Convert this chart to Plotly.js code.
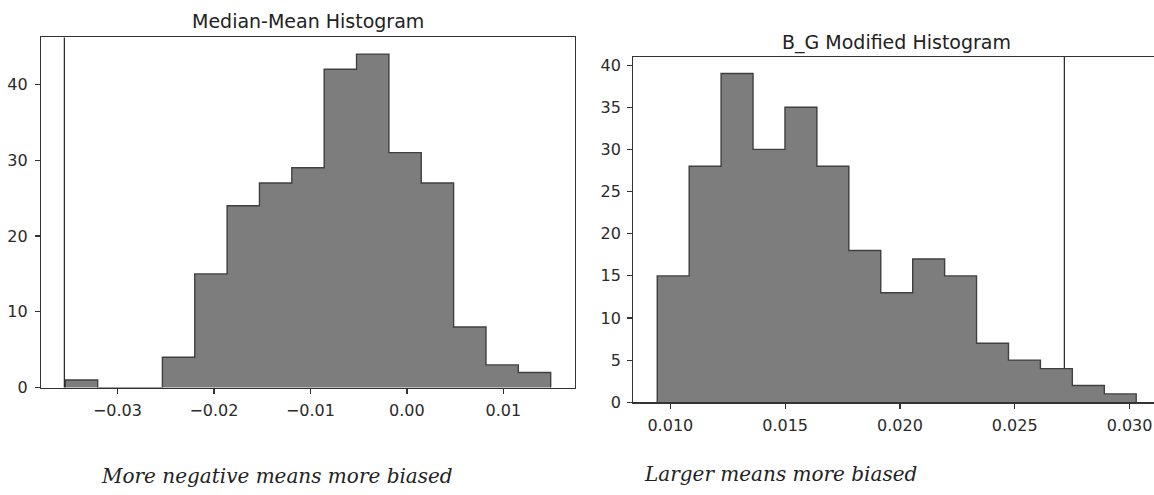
<!DOCTYPE html>
<html>
<head>
<meta charset="utf-8">
<script src="https://cdn.plot.ly/plotly-3.0.1.min.js"></script>
<style>html,body{margin:0;padding:0;background:#fff;overflow:hidden}</style>
</head>
<body>
<div id="chart" style="width:1154px;height:495px"></div>
<script>
// ---- data ----
const leftTitle = 'Median-Mean Histogram';
const leftBinStart = -0.03540;
const leftBinEnd = 0.01490;
const leftCounts = [1, 0, 0, 4, 15, 24, 27, 29, 42, 44, 31, 27, 8, 3, 2];
const leftMarkerX = -0.0355;
const leftTickVals = [-0.03, -0.02, -0.01, 0.00, 0.01];
const leftTickText = ['\u22120.03', '\u22120.02', '\u22120.01', '0.00', '0.01'];
const leftYTicks = [0, 10, 20, 30, 40];

const rightTitle = 'B_G Modified Histogram';
const rightBinStart = 0.00943;
const rightBinEnd = 0.03029;
const rightCounts = [15, 28, 39, 30, 35, 28, 18, 13, 17, 15, 7, 5, 4, 2, 1];
const rightMarkerX = 0.02716;
const rightTickVals = [0.010, 0.015, 0.020, 0.025, 0.030];
const rightTickText = ['0.010', '0.015', '0.020', '0.025', '0.030'];
const rightYTicks = [0, 5, 10, 15, 20, 25, 30, 35, 40];

const leftCaption = 'More negative means more biased';
const rightCaption = 'Larger means more biased';

// ---- helpers ----
function edges(start, end, n) {
  const w = (end - start) / n;
  const e = [];
  for (let i = 0; i <= n; i++) e.push(start + i * w);
  return e;
}
function barTrace(start, end, counts, xa, ya) {
  const e = edges(start, end, counts.length);
  const w = (end - start) / counts.length;
  return {
    type: 'bar', xaxis: xa, yaxis: ya,
    x: counts.map((c, i) => (e[i] + e[i + 1]) / 2),
    y: counts, width: counts.map(() => w),
    marker: {color: '#7d7d7d', line: {width: 0}},
    hoverinfo: 'skip', showlegend: false
  };
}
function stepTrace(start, end, counts, xa, ya) {
  const e = edges(start, end, counts.length);
  const xs = [e[0]], ys = [0];
  counts.forEach((c, i) => { xs.push(e[i]); ys.push(c); });
  xs.push(e[counts.length]); ys.push(0);
  return {
    type: 'scatter', mode: 'lines', xaxis: xa, yaxis: ya,
    x: xs, y: ys, line: {shape: 'hv', color: '#404040', width: 1.4},
    hoverinfo: 'skip', showlegend: false
  };
}

const W = 1154, H = 495;
const px = v => v / W;
const py = v => 1 - v / H;

const tickFont = {family: 'DejaVu Sans', size: 16, color: '#2a2a2a'};
const axisCommon = {
  showline: true, linecolor: '#333', linewidth: 1.2,
  ticks: 'outside', ticklen: 5, tickwidth: 1.2, tickcolor: '#333',
  showgrid: false, zeroline: false, tickfont: tickFont, fixedrange: true
};

const data = [
  barTrace(leftBinStart, leftBinEnd, leftCounts, 'x', 'y'),
  stepTrace(leftBinStart, leftBinEnd, leftCounts, 'x', 'y'),
  barTrace(rightBinStart, rightBinEnd, rightCounts, 'x2', 'y2'),
  stepTrace(rightBinStart, rightBinEnd, rightCounts, 'x2', 'y2')
];

const layout = {
  width: W, height: H,
  margin: {l: 0, r: 0, t: 0, b: 0},
  paper_bgcolor: '#fff', plot_bgcolor: '#fff',
  bargap: 0,
  xaxis: Object.assign({}, axisCommon, {
    domain: [px(41), px(575)], range: [-0.03792, 0.01742], anchor: 'y',
    tickvals: leftTickVals, ticktext: leftTickText, mirror: true, ticklabelstandoff: 3
  }),
  yaxis: Object.assign({}, axisCommon, {
    domain: [py(387.6), py(37.4)], range: [0, 46.2], anchor: 'x',
    tickvals: leftYTicks, mirror: true, ticklabelstandoff: 4
  }),
  xaxis2: Object.assign({}, axisCommon, {
    domain: [px(633.3), 1], range: [0.008387, 0.031065], anchor: 'y2',
    tickvals: rightTickVals, ticktext: rightTickText, mirror: true, ticklabelstandoff: 3
  }),
  yaxis2: Object.assign({}, axisCommon, {
    domain: [py(402.3), py(57.1)], range: [0, 40.95], anchor: 'x2',
    tickvals: rightYTicks, mirror: false, ticklabelstandoff: 3
  }),
  shapes: [
    {type: 'line', xref: 'x', yref: 'y domain', x0: leftMarkerX, x1: leftMarkerX, y0: 0, y1: 1,
     line: {color: '#222', width: 1.2}, layer: 'above'},
    {type: 'line', xref: 'x2', yref: 'y2 domain', x0: rightMarkerX, x1: rightMarkerX, y0: 0, y1: 1,
     line: {color: '#222', width: 1.2}, layer: 'below'}
  ],
  annotations: [
    {text: leftTitle, xref: 'paper', yref: 'paper', x: px(308), y: py(21.5),
     xanchor: 'center', yanchor: 'middle', showarrow: false,
     font: {family: 'DejaVu Sans', size: 19, color: '#222'}},
    {text: rightTitle, xref: 'paper', yref: 'paper', x: px(896.5), y: py(42.5),
     xanchor: 'center', yanchor: 'middle', showarrow: false,
     font: {family: 'DejaVu Sans', size: 19, color: '#222'}},
    {text: '<i>' + leftCaption + '</i>', xref: 'paper', yref: 'paper', x: px(99), y: py(475.5),
     xanchor: 'left', yanchor: 'middle', showarrow: false,
     font: {family: 'DejaVu Serif', size: 20, color: '#222'}},
    {text: '<i>' + rightCaption + '</i>', xref: 'paper', yref: 'paper', x: px(641.7), y: py(474),
     xanchor: 'left', yanchor: 'middle', showarrow: false,
     font: {family: 'DejaVu Serif', size: 20, color: '#222'}}
  ]
};

Plotly.newPlot('chart', data, layout, {displayModeBar: false, staticPlot: true});
</script>
</body>
</html>
